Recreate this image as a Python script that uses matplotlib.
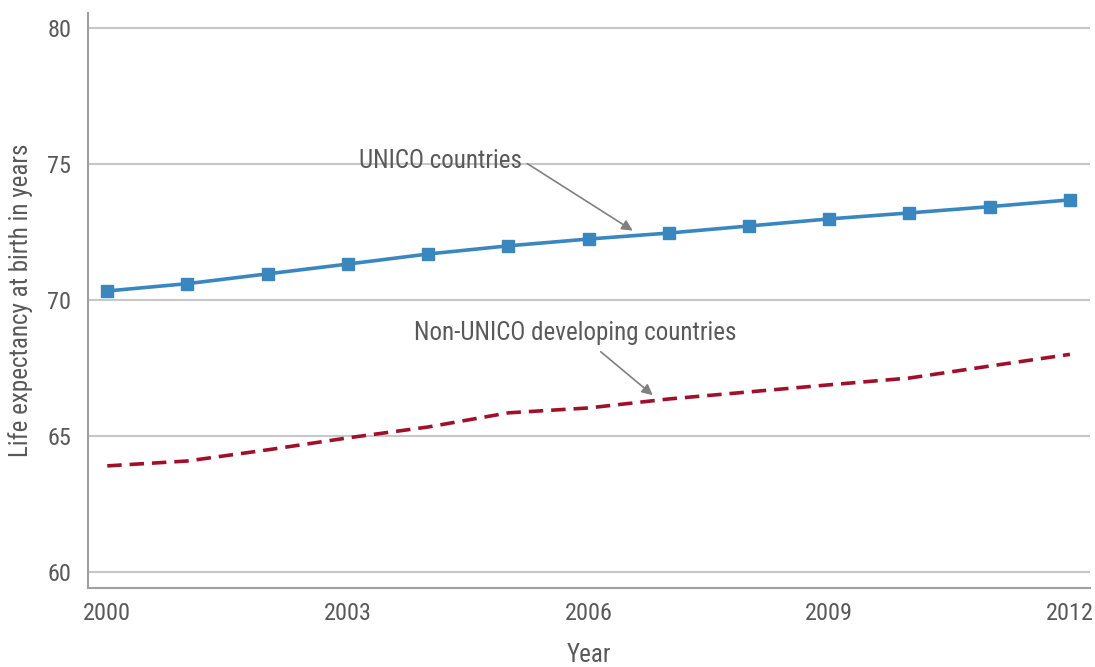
import matplotlib
matplotlib.use("Agg")
import matplotlib.pyplot as plt
from matplotlib import font_manager

years = list(range(2000, 2013))
unico = [70.33, 70.6, 70.96, 71.32, 71.69, 71.99, 72.24, 72.46, 72.72, 72.98, 73.2, 73.43, 73.68]
non_unico = [63.9, 64.08, 64.49, 64.93, 65.33, 65.85, 66.03, 66.36, 66.62, 66.88, 67.13, 67.57, 68.0]
xticks = [2000, 2003, 2006, 2009, 2012]
yticks = [60, 65, 70, 75, 80]

names = {f.name for f in font_manager.fontManager.ttflist}
family = [n for n in ["Roboto Condensed", "Liberation Sans Narrow", "Roboto", "DejaVu Sans"] if n in names]
plt.rcParams["font.family"] = family

text_col = "#595959"
grid_col = "#c8c8c8"
spine_col = "#a0a0a0"

fig = plt.figure(figsize=(10.95, 6.67), dpi=100)
ax = fig.add_axes([88 / 1095, 1 - 588 / 667, (1090 - 88) / 1095, (588 - 13) / 667])

ax.plot(years, unico, color="#3a87c0", lw=2.6, marker="s", ms=9, zorder=3)
ax.plot(years, non_unico, color="#a0102a", lw=2.6, ls=(0, (4, 2.2)), zorder=3)

ax.set_xlim(1999.76, 2012.25)
ax.set_ylim(59.41, 80.55)
ax.set_xticks(xticks)
ax.set_yticks(yticks)
ax.tick_params(length=0, labelsize=17.5, colors=text_col, pad=10)
ax.tick_params(axis="y", pad=12)
ax.grid(axis="y", color=grid_col, lw=1.5)
ax.set_axisbelow(True)
for s in ["top", "right"]:
    ax.spines[s].set_visible(False)
for s in ["left", "bottom"]:
    ax.spines[s].set_color(spine_col)
    ax.spines[s].set_linewidth(1.5)

ax.set_xlabel("Year", fontsize=18, color=text_col, labelpad=13)
ax.set_ylabel("Life expectancy at birth in years", fontsize=18, color=text_col, labelpad=10)

arrow = dict(arrowstyle="-|>", color="#808080", lw=1.2, mutation_scale=16, shrinkA=0, shrinkB=0)
ax.annotate("UNICO countries", xy=(2006.55, 72.55), xytext=(2004.16, 75.1),
            fontsize=18, color=text_col, ha="center", va="center",
            arrowprops=dict(arrow, relpos=(1.03, 0.4)))
ax.annotate("Non-UNICO developing countries", xy=(2006.8, 66.5), xytext=(2005.83, 68.8),
            fontsize=18, color=text_col, ha="center", va="center",
            arrowprops=dict(arrow, relpos=(0.58, -0.3)))

fig.savefig("out.png", dpi=100, facecolor="white")
